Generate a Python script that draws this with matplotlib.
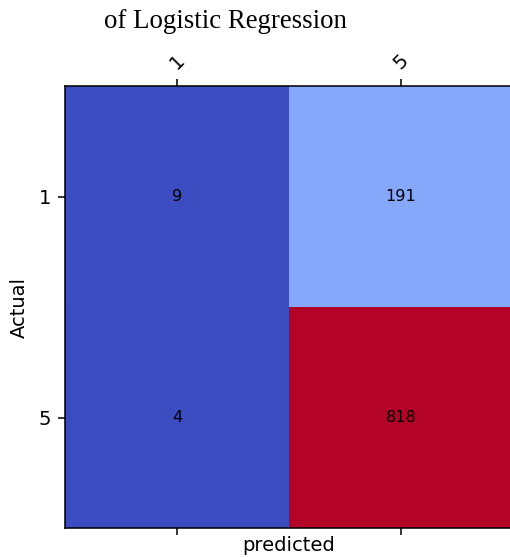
import matplotlib
matplotlib.use("Agg")
import matplotlib.pyplot as plt
import numpy as np

# Confusion matrix counts (rows: actual, columns: predicted)
class_labels = ["1", "5"]
cm_values = [[9, 191],
             [4, 818]]
title_text = "of Logistic Regression"
x_label = "predicted"
y_label = "Actual"

W, H, DPI = 510, 557, 140
fig = plt.figure(figsize=(W / DPI, H / DPI), dpi=DPI)

left, right, top, bottom = 65, 513, 86, 528
ax = fig.add_axes([left / W, 1 - bottom / H, (right - left) / W, (bottom - top) / H])

cm = np.array(cm_values)
ax.imshow(cm, cmap="coolwarm", aspect="auto", interpolation="nearest",
          vmin=cm.min(), vmax=cm.max())

for i in range(cm.shape[0]):
    for j in range(cm.shape[1]):
        ax.text(j, i, str(cm[i, j]), ha="center", va="center",
                color="black", fontsize=8.3)

ax.set_xticks(range(len(class_labels)))
ax.set_yticks(range(len(class_labels)))
ax.set_xticklabels(class_labels, rotation=45, fontsize=10)
ax.set_yticklabels(class_labels, fontsize=10)
ax.xaxis.set_ticks_position("both")
ax.tick_params(axis="x", labeltop=True, labelbottom=False)
ax.xaxis.set_label_position("bottom")
ax.set_xlabel(x_label, fontsize=10, labelpad=0.5)
ax.set_ylabel(y_label, fontsize=10, labelpad=5)

fig.text(225 / W, 1 - 22 / H, title_text, ha="center", va="center",
         fontsize=13.8, family="Liberation Serif")

fig.savefig("out.png", dpi=DPI)
